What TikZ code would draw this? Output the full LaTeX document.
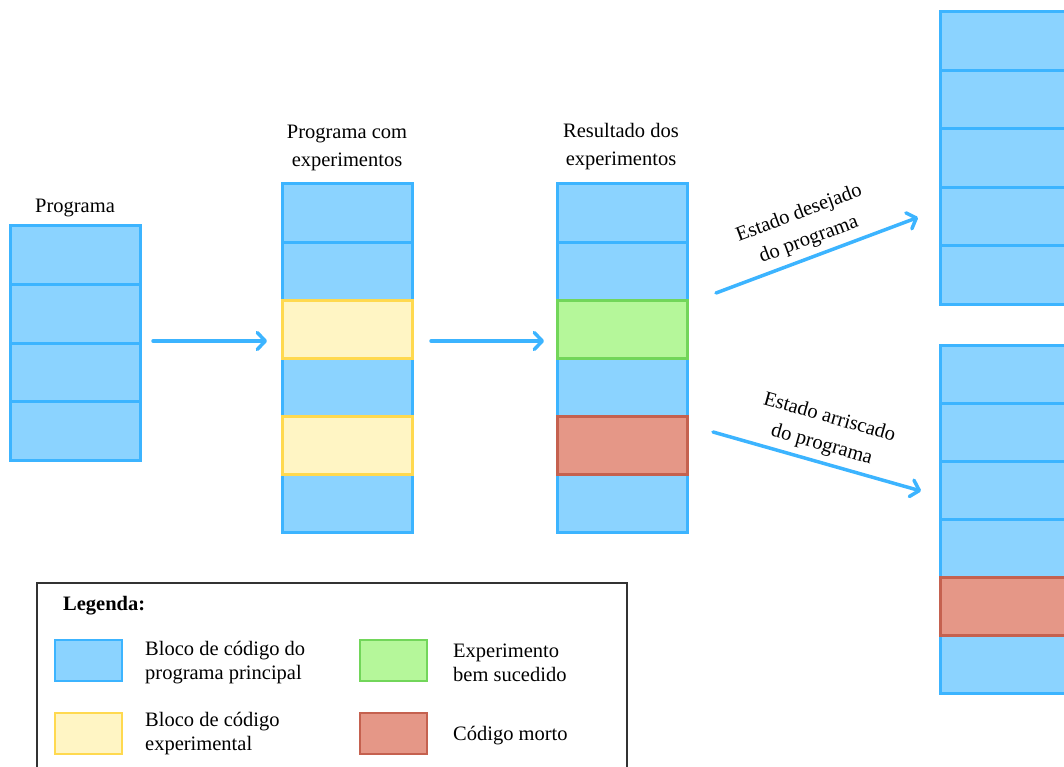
\documentclass[tikz,border=0pt]{standalone}
\usepackage{fontspec}
\setmainfont{Liberation Serif}
\usetikzlibrary{arrows.meta,calc}

\definecolor{bluefill}{HTML}{8BD3FF}
\definecolor{bluebd}{HTML}{3CB4FF}
\definecolor{yelfill}{HTML}{FFF5C4}
\definecolor{yelbd}{HTML}{FFD94F}
\definecolor{grnfill}{HTML}{B5F79A}
\definecolor{grnbd}{HTML}{72D65A}
\definecolor{redfill}{HTML}{E59787}
\definecolor{redbd}{HTML}{C5614F}
\definecolor{arrowblue}{HTML}{3CB4FF}
\definecolor{framegray}{HTML}{333333}

\tikzset{
  blk/.style={draw=bluebd, fill=bluefill, line width=3pt, minimum width=130pt,
    inner sep=0pt, outer sep=0pt, anchor=north west},
  expblk/.style={blk, draw=yelbd, fill=yelfill},
  okblk/.style={blk, draw=grnbd, fill=grnfill},
  deadblk/.style={blk, draw=redbd, fill=redfill},
  swatch/.style={line width=2pt, minimum width=67pt, minimum height=41pt,
    inner sep=0pt, outer sep=0pt, anchor=north west},
  flow/.style={draw=arrowblue, line width=3.5pt, line cap=round,
    -{Straight Barb[length=8pt, width=17pt, line cap=round, line join=round]}},
  lbl/.style={font=\fontsize{20.5}{28}\selectfont, align=center, inner sep=0pt},
  ltxt/.style={font=\fontsize{20.5}{24}\selectfont, align=left, inner sep=0pt, anchor=west},
}

\begin{document}
\begin{tikzpicture}[x=1pt, y=-1pt]
\useasboundingbox (0,0) rectangle (1064,767);

% column 1: original program
\foreach \i in {1,...,4}
  \node[blk, minimum height=58.5pt] (p\i) at (10,{226+58.5*(\i-1)}) {};
\node[lbl] (lp) at (75,208) {Programa};

% column 2: program with experiments
\foreach \i in {1,2,4,6}
  \node[blk, minimum height=58pt] (e\i) at (282,{184+58*(\i-1)}) {};
\foreach \i in {3,5}
  \node[expblk, minimum height=58pt] (e\i) at (282,{184+58*(\i-1)}) {};
\node[lbl] (le) at (347,148) {Programa com\\experimentos};

% column 3: outcome of the experiments
\foreach \i in {1,2,4,6}
  \node[blk, minimum height=58pt] (r\i) at (557,{184+58*(\i-1)}) {};
\node[okblk, minimum height=58pt] (r3) at (557,300) {};
\node[deadblk, minimum height=58pt] (r5) at (557,416) {};
\node[lbl] (lr) at (621,147) {Resultado dos\\experimentos};

% column 4 (top): desired state
\foreach \i in {1,...,5}
  \node[blk, minimum height=58.4pt] (t\i) at (940,{12+58.4*(\i-1)}) {};

% column 4 (bottom): risky state
\foreach \i in {1,2,3,4,6}
  \node[blk, minimum height=58pt] (b\i) at (940,{345+58*(\i-1)}) {};
\node[deadblk, minimum height=58pt] (b5) at (940,577) {};

% connectors
\draw[flow] ([xshift=13pt,yshift=2pt]p2.south east) -- ([xshift=-15pt,yshift=2pt]p2.south east -| e3.west);
\draw[flow] ([xshift=19pt,yshift=-12pt]e3.east) -- ([xshift=-13pt,yshift=-12pt]r3.west);
\draw[flow] ([xshift=29pt,yshift=36pt]r3.east) -- node[lbl, sloped, above=6pt, pos=0.49]
  {Estado desejado\\do programa} ([xshift=-22pt,yshift=-1pt]t4.west);
\draw[flow] ([xshift=26pt,yshift=13pt]r5.east) -- node[lbl, sloped, above=6pt, pos=0.5]
  {Estado arriscado\\do programa} ([xshift=-19pt,yshift=-1pt]b3.west);

% legend
\draw[framegray, line width=2pt] (37,583) rectangle (627,800);
\node[ltxt, font=\fontsize{20.5}{24}\selectfont\bfseries] (lt) at (63,606) {Legenda:};
\node[swatch, draw=bluebd, fill=bluefill] (s1) at (55,640) {};
\node[swatch, draw=yelbd, fill=yelfill] (s2) at (55,713) {};
\node[swatch, draw=grnbd, fill=grnfill] (s3) at (360,640) {};
\node[swatch, draw=redbd, fill=redfill] (s4) at (360,713) {};
\node[ltxt] (t1) at (145,663) {Bloco de código do\\programa principal};
\node[ltxt] (t2) at (145,734) {Bloco de código\\experimental};
\node[ltxt] (t3) at (453,663) {Experimento\\bem sucedido};
\node[ltxt] (t4) at (453,736) {Código morto};
\end{tikzpicture}
\end{document}
